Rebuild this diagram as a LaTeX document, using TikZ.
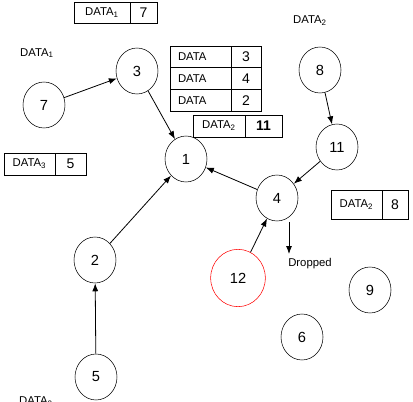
\documentclass[tikz,border=0pt]{standalone}
\usepackage{fontspec}
\setmainfont{Liberation Sans}
\usetikzlibrary{shapes.geometric,arrows.meta,positioning}

\begin{document}
\begin{tikzpicture}[x=0.75pt,y=-0.75pt,
	vtx/.style={draw,ellipse,minimum width=31.5pt,minimum height=34.5pt,inner sep=0pt,font=\fontsize{11}{13}\selectfont},
	cell/.style={draw,rectangle,inner sep=0pt,outer sep=0pt,line width=0.6pt,font=\fontsize{8.5}{10}\selectfont},
	num/.style={cell,font=\fontsize{10.5}{12}\selectfont},
	lbl/.style={font=\fontsize{8.5}{10}\selectfont},
	edge/.style={-{Latex[length=6pt,width=4.5pt]},line width=0.6pt}]
	\clip (0,0) rectangle (413,402);

	% vertices
	\node[vtx] (v7) at (44,105) {7};
	\node[vtx] (v3) at (137,71) {3};
	\node[vtx] (v8) at (320,70) {8};
	\node[vtx] (v11) at (337,147) {11};
	\node[vtx] (v1) at (186,159) {1};
	\node[vtx] (v4) at (277,198) {4};
	\node[vtx] (v2) at (95,260) {2};
	\node[vtx,draw=red,minimum width=41pt,minimum height=43pt] (v12) at (238,278) {12};
	\node[vtx] (v9) at (370,290) {9};
	\node[vtx] (v6) at (302,337) {6};
	\node[vtx] (v5) at (96,377) {5};

	% free labels
	\node[lbl] (l1) at (37,53) {DATA\textsubscript{1}};
	\node[lbl] (l2) at (310,21) {DATA\textsubscript{2}};
	\node[lbl] (l3) at (36,402) {DATA\textsubscript{2}};
	\node[lbl] (drop) at (310,264) {Dropped};
	\coordinate (d0) at (289,222);

	% tables
	\node[cell,minimum width=42pt,minimum height=15.75pt,anchor=north west] (ta1) at (74,2) {DATA\textsubscript{1}};
	\node[num,minimum width=20.25pt,minimum height=15.75pt,right=0pt of ta1] (ta2) {7};

	\node[cell,minimum height=16.3pt,text width=33.75pt,inner xsep=6pt,align=left,anchor=north west] (tb1) at (170,46) {DATA};
	\node[num,minimum width=22.5pt,minimum height=16.3pt,right=0pt of tb1] (tb2) {3};
	\node[cell,minimum height=16.3pt,text width=33.75pt,inner xsep=6pt,align=left,below=0pt of tb1] (tb3) {DATA};
	\node[num,minimum width=22.5pt,minimum height=16.3pt,right=0pt of tb3] (tb4) {4};
	\node[cell,minimum height=16.3pt,text width=33.75pt,inner xsep=6pt,align=left,below=0pt of tb3] (tb5) {DATA};
	\node[num,minimum width=22.5pt,minimum height=16.3pt,right=0pt of tb5] (tb6) {2};

	\node[cell,minimum width=39pt,minimum height=16.5pt,anchor=north west] (tc1) at (193,115) {DATA\textsubscript{2}};
	\node[num,minimum width=27.75pt,minimum height=16.5pt,right=0pt of tc1] (tc2) {\textbf{11}};

	\node[cell,minimum width=38.25pt,minimum height=16.5pt,anchor=north west] (td1) at (4,153) {DATA\textsubscript{3}};
	\node[num,minimum width=23.25pt,minimum height=16.5pt,right=0pt of td1] (td2) {5};

	\node[cell,minimum width=38.25pt,minimum height=21.75pt,anchor=north west] (te1) at (331,190) {DATA\textsubscript{2}};
	\node[num,minimum width=19.5pt,minimum height=21.75pt,right=0pt of te1] (te2) {8};

	% connectors
	\draw[edge] (v7) -- (v3);
	\draw[edge] (v3) -- (v1);
	\draw[edge] (v8) -- (v11);
	\draw[edge] (v11) -- (v4);
	\draw[edge] (v4) -- (v1);
	\draw[edge] (v2) -- (v1);
	\draw[edge] (v5) -- (v2);
	\draw[edge] (v12) -- (v4);
	\draw[edge] (d0) -- (d0 |- drop.north);
\end{tikzpicture}
\end{document}
